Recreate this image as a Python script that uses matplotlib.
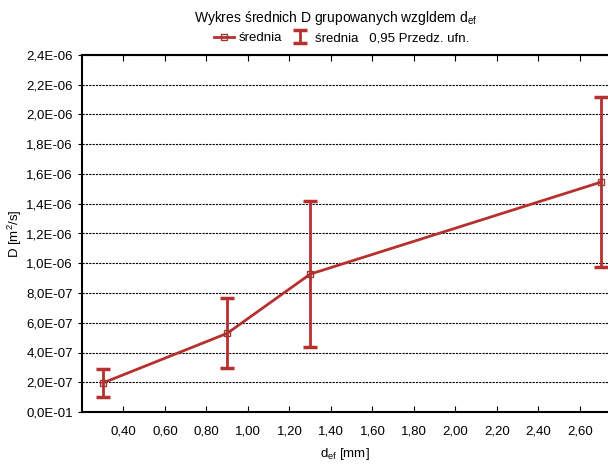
import matplotlib.pyplot as plt
from matplotlib.ticker import FixedLocator, FixedFormatter

plt.rcParams['font.family'] = ['Liberation Sans', 'DejaVu Sans']

# data
d_ef = [0.3, 0.9, 1.3, 2.7]
mean_D = [1.95e-7, 5.29e-7, 9.27e-7, 1.545e-6]
ci_D = [0.92e-7, 2.35e-7, 4.89e-7, 5.71e-7]

x_ticks = [0.4, 0.6, 0.8, 1.0, 1.2, 1.4, 1.6, 1.8, 2.0, 2.2, 2.4, 2.6]
x_labels = ['0,40', '0,60', '0,80', '1,00', '1,20', '1,40', '1,60',
            '1,80', '2,00', '2,20', '2,40', '2,60']
y_ticks = [0, 2e-7, 4e-7, 6e-7, 8e-7, 1e-6, 1.2e-6, 1.4e-6, 1.6e-6,
           1.8e-6, 2.0e-6, 2.2e-6, 2.4e-6]
y_labels = ['0,0E-01', '2,0E-07', '4,0E-07', '6,0E-07', '8,0E-07',
            '1,0E-06', '1,2E-06', '1,4E-06', '1,6E-06', '1,8E-06',
            '2,0E-06', '2,2E-06', '2,4E-06']

red = '#b5302f'

fig = plt.figure(figsize=(6.08, 4.65), dpi=100)
ax = fig.add_axes([82 / 608, 1 - 412 / 465, 1 - 82 / 608, (412 - 55) / 465])

line, = ax.plot(d_ef, mean_D, color=red, lw=2, marker='s', ms=5,
                mfc='none', mec='#9a3a30', mew=1, zorder=3)
eb = ax.errorbar(d_ef, mean_D, yerr=ci_D, fmt='none', ecolor=red,
                 elinewidth=2, capsize=5, capthick=2.5, zorder=2)

ax.set_xlim(0.2, 2.735)
ax.set_ylim(0, 2.4e-6)
ax.xaxis.set_major_locator(FixedLocator(x_ticks))
ax.xaxis.set_major_formatter(FixedFormatter(x_labels))
ax.yaxis.set_major_locator(FixedLocator(y_ticks))
ax.yaxis.set_major_formatter(FixedFormatter(y_labels))
ax.tick_params(axis='x', direction='in', length=4, labelsize=9.5, pad=10,
               top=True)
ax.tick_params(axis='y', direction='out', length=3, labelsize=9.5)
ax.grid(axis='y', color='black', linestyle=(0, (2, 1)), linewidth=0.8)
ax.spines['right'].set_visible(False)
for s in ['left', 'bottom', 'top']:
    ax.spines[s].set_linewidth(1.5)

ax.set_xlabel('d$_{\\mathregular{ef}}$ [mm]', fontsize=9.5, labelpad=6)
ax.set_ylabel('D [m$^{\\mathregular{2}}$/s]', fontsize=9.5, labelpad=2)

fig.text(0.552, 0.962, 'Wykres średnich D grupowanych wzgldem d$_{\\mathregular{ef}}$',
         ha='center', va='center', fontsize=10)
fig.legend([line, eb], ['średnia', 'średnia   0,95 Przedz. ufn.'],
           loc='center', bbox_to_anchor=(0.562, 0.918), ncol=2, frameon=False,
           fontsize=9.5, handlelength=1.5, columnspacing=0.6, handletextpad=0.4)

fig.savefig('out.png', dpi=100)
